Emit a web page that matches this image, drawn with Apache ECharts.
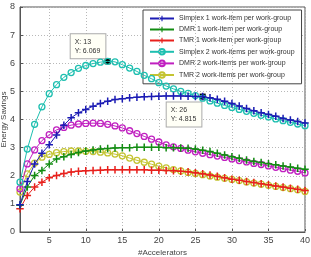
<!DOCTYPE html>
<html>
<head>
<meta charset="utf-8">
<script src="https://cdn.jsdelivr.net/npm/echarts@6/dist/echarts.min.js"></script>
<style>
html, body { margin: 0; padding: 0; background: #fff; }
#chart { width: 311px; height: 257px; }
</style>
</head>
<body>
<div id="chart"></div>
<script>
// accelerators on the x axis
var accel = [];
for (var i = 1; i <= 40; i++) accel.push(i);
var xTicks = [5, 10, 15, 20, 25, 30, 35, 40];

var simplex1 = [0.97,1.8,2.42,2.8,3.1,3.45,3.8,4.06,4.24,4.36,4.47,4.57,4.65,4.71,4.74,4.77,4.79,4.81,4.82,4.83,
                4.84,4.84,4.84,4.83,4.82,4.815,4.77,4.72,4.65,4.57,4.48,4.39,4.31,4.24,4.18,4.12,4.04,3.98,3.93,3.88];
var dmr1 = [0.95,1.6,2.01,2.19,2.42,2.6,2.68,2.76,2.83,2.88,2.92,2.95,2.97,2.99,3.0,3.0,3.01,3.01,3.01,3.01,
            3.0,3.0,2.99,2.98,2.95,2.91,2.86,2.8,2.74,2.68,2.62,2.56,2.51,2.47,2.43,2.39,2.35,2.31,2.27,2.23];
var tmr1 = [0.83,1.3,1.6,1.77,1.93,2.01,2.08,2.13,2.16,2.18,2.19,2.2,2.21,2.21,2.21,2.21,2.21,2.21,2.2,2.2,
            2.19,2.18,2.16,2.14,2.11,2.07,2.03,1.98,1.93,1.88,1.84,1.8,1.76,1.72,1.68,1.64,1.6,1.56,1.52,1.48];
var simplex2 = [1.77,2.95,3.83,4.45,4.92,5.24,5.5,5.67,5.82,5.92,5.99,6.04,6.069,6.05,5.95,5.83,5.71,5.57,5.45,5.31,
                5.19,5.09,5.0,4.93,4.85,4.76,4.66,4.58,4.5,4.43,4.36,4.29,4.22,4.15,4.09,4.02,3.96,3.9,3.84,3.78];
var dmr2 = [1.54,2.42,2.92,3.25,3.46,3.63,3.72,3.8,3.84,3.86,3.87,3.86,3.83,3.77,3.7,3.6,3.5,3.4,3.3,3.2,
            3.1,3.03,2.97,2.91,2.85,2.8,2.75,2.7,2.65,2.6,2.54,2.49,2.44,2.4,2.35,2.3,2.25,2.2,2.16,2.1];
var tmr2 = [1.42,2.07,2.45,2.66,2.76,2.82,2.86,2.88,2.88,2.87,2.86,2.84,2.81,2.77,2.71,2.63,2.55,2.48,2.41,2.34,
            2.28,2.22,2.17,2.12,2.08,2.04,1.99,1.95,1.91,1.87,1.83,1.78,1.74,1.7,1.66,1.62,1.58,1.54,1.5,1.44];

var names = ['Simplex 1 work-item per work-group', 'DMR 1 work-item per work-group', 'TMR 1 work-item per work-group',
             'Simplex 2 work-items per work-group', 'DMR 2 work-items per work-group', 'TMR 2 work-items per work-group'];
var colors = ['#1c1cb4', '#128c12', '#e8201c', '#1ebfb0', '#c020c0', '#c4c432'];
var values = [simplex1, dmr1, tmr1, simplex2, dmr2, tmr2];

// data tips: [x, y, series index]
var tip1 = [13, 6.069, 3];
var tip2 = [26, 4.815, 0];

var plus = 'path://M4,0H6V4H10V6H6V10H4V6H0V4H4Z';

var chart = echarts.init(document.getElementById('chart'));
var font = 'Liberation Sans, Arial, sans-serif';

var series = [];
for (var s = 0; s < 6; s++) {
    var pts = [];
    for (var k = 0; k < accel.length; k++) pts.push([accel[k], values[s][k]]);
    var circ = s >= 3;
    series.push({
        name: names[s],
        type: 'line',
        data: pts,
        z: 10 - s,
        symbol: circ ? 'circle' : plus,
        symbolSize: circ ? 6 : 7.5,
        lineStyle: { color: colors[s], width: 1 },
        itemStyle: circ ? { color: 'rgba(255,255,255,0)', borderColor: colors[s], borderWidth: 1.3 }
                        : { color: colors[s] },
        emphasis: { disabled: true },
        animation: false
    });
}

function tip(t, pos) {
    return {
        symbol: 'rect', symbolSize: 6,
        itemStyle: { color: '#000' },
        data: [{ coord: [t[0], t[1]] }],
        label: {
            show: true, position: pos,
            formatter: 'X: ' + t[0] + '\nY: ' + t[1].toFixed(3),
            fontSize: 7, lineHeight: 9, color: '#333', fontFamily: font,
            backgroundColor: '#fffff6', borderColor: '#aaa', borderWidth: 1,
            padding: [3, 5, 3, 4]
        },
        silent: true
    };
}
series[tip1[2]].markPoint = tip(tip1, [-34, -24]);
series[tip2[2]].markPoint = tip(tip2, [-33, 9]);

// vertical grid lines at x ticks
var vlines = [];
for (var j = 0; j < xTicks.length; j++) vlines.push({ xAxis: xTicks[j] });
series[5].markLine = {
    silent: true, symbol: 'none', animation: false,
    label: { show: false },
    lineStyle: { color: '#b8b8b8', type: [1, 2], width: 1 },
    data: vlines
};

var option = {
    backgroundColor: '#fff',
    animation: false,
    grid: { left: 20, right: 6, top: 7, bottom: 25, show: true, borderColor: '#555', borderWidth: 1,
            outerBoundsMode: 'none', containLabel: false },
    legend: {
        orient: 'vertical', left: 143, top: 10,
        backgroundColor: '#fff', borderColor: '#444', borderWidth: 1,
        padding: [5, 7, 5, 6], itemGap: 4, itemWidth: 24, itemHeight: 7,
        textStyle: { fontSize: 7, color: '#333', fontFamily: font },
        data: names, selectedMode: false
    },
    xAxis: {
        type: 'value', min: 1, max: 40,
        name: '#Accelerators', nameLocation: 'middle', nameGap: 17, nameMoveOverlap: false,
        nameTextStyle: { fontSize: 8, color: '#444', fontFamily: font },
        axisLine: { lineStyle: { color: '#555' } },
        axisTick: { inside: true, length: 3, customValues: xTicks, lineStyle: { color: '#555' } },
        axisLabel: { customValues: xTicks, fontSize: 9, color: '#444', margin: 4, fontFamily: font },
        splitLine: { show: false }
    },
    yAxis: {
        type: 'value', min: 0, max: 8, interval: 1,
        name: 'Energy Savings', nameLocation: 'middle', nameGap: 12, nameMoveOverlap: false,
        nameTextStyle: { fontSize: 8, color: '#444', fontFamily: font },
        axisLine: { show: true, lineStyle: { color: '#555' } },
        axisTick: { show: true, inside: true, length: 3, lineStyle: { color: '#555' } },
        axisLabel: { fontSize: 9, color: '#444', margin: 5, fontFamily: font },
        splitLine: { show: true, lineStyle: { color: '#b8b8b8', type: [1, 2] } }
    },
    series: series
};
chart.setOption(option);
</script>
</body>
</html>
